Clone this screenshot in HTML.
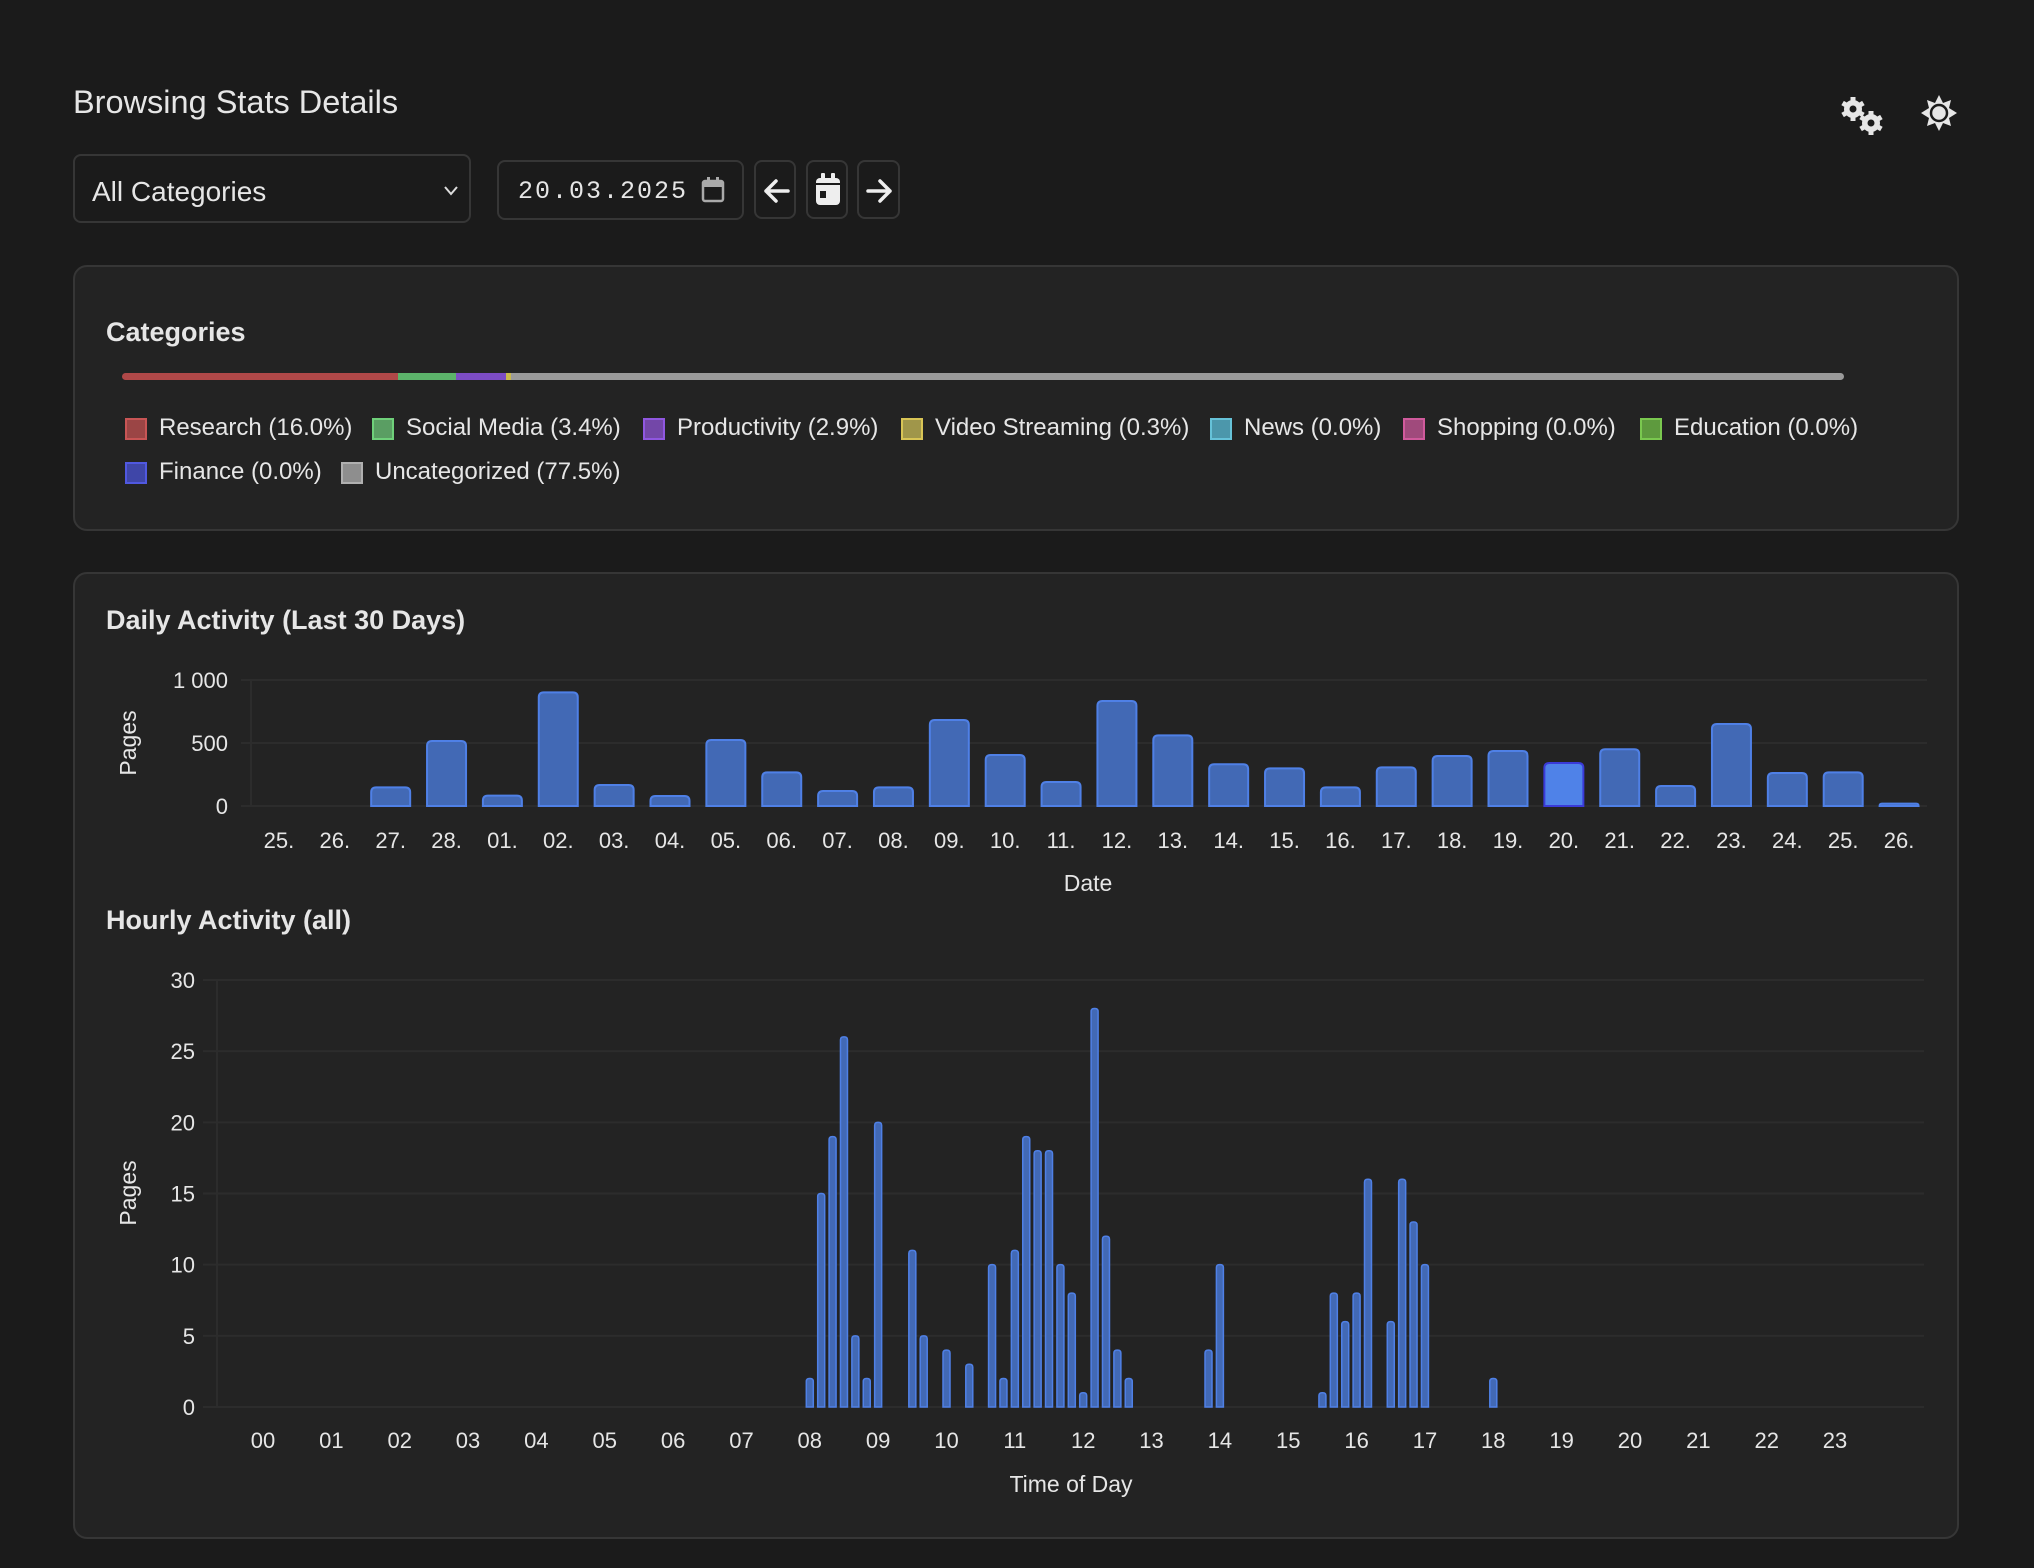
<!DOCTYPE html>
<html><head><meta charset="utf-8">
<style>
html,body{margin:0;padding:0;background:#1b1b1b;}
body{width:2034px;height:1568px;position:relative;overflow:hidden;font-family:"Liberation Sans",sans-serif;color:#e6e6e6;}
.abs{position:absolute;}
.card{position:absolute;background:#232323;border:2px solid #363636;border-radius:14px;box-sizing:border-box;}
.ctl{position:absolute;border:2px solid #363636;border-radius:8px;box-sizing:border-box;background:#1b1b1b;}
.leg{position:absolute;font-size:24px;line-height:28px;white-space:nowrap;}
.sw{display:inline-block;width:22px;height:22px;border:2px solid;vertical-align:-5px;margin-right:12px;box-sizing:border-box;}
</style></head><body>
<div class="abs" style="left:73px;top:84px;font-size:32.5px;">Browsing Stats Details</div>
<svg class="abs" style="left:1836px;top:94px" width="50" height="42" viewBox="0 0 50 42">
<g fill="#e6e6e6"><circle cx="17" cy="15" r="9"/><g stroke="#e6e6e6" stroke-width="5"><line x1="17" y1="3" x2="17" y2="27"/><line x1="6.6" y1="9" x2="27.4" y2="21"/><line x1="6.6" y1="21" x2="27.4" y2="9"/></g><circle cx="17" cy="15" r="3.5" fill="#1b1b1b"/>
<circle cx="35" cy="29" r="9"/><g stroke="#e6e6e6" stroke-width="5"><line x1="35" y1="17" x2="35" y2="41"/><line x1="24.6" y1="23" x2="45.4" y2="35"/><line x1="24.6" y1="35" x2="45.4" y2="23"/></g><circle cx="35" cy="29" r="3.5" fill="#1b1b1b"/></g></svg>
<svg class="abs" style="left:1920px;top:94px" width="38" height="38" viewBox="0 0 38 38">
<polygon fill="#e6e6e6" points="19,1 23,9 31,6 29,14 37,19 29,24 31,32 23,29 19,37 15,29 7,32 9,24 1,19 9,14 7,6 15,9"/>
<circle cx="19" cy="19" r="8" fill="#e6e6e6" stroke="#1b1b1b" stroke-width="2.5"/></svg>

<div class="ctl" style="left:73px;top:154px;width:398px;height:69px;">
<div class="abs" style="left:17px;top:20px;font-size:28px;">All Categories</div>
<svg class="abs" style="left:368px;top:29px" width="16" height="12"><polyline points="2,2 8,9 14,2" fill="none" stroke="#ddd" stroke-width="2"/></svg></div>
<div class="ctl" style="left:497px;top:160px;width:247px;height:60px;">
<div class="abs" style="left:19px;top:15px;font-size:25px;letter-spacing:2px;font-family:'Liberation Mono',monospace;">20.03.2025</div>
<svg class="abs" style="left:201px;top:14px" width="26" height="28"><rect x="3" y="5" width="20" height="20" rx="2" fill="none" stroke="#aaa" stroke-width="2.5"/><rect x="3" y="5" width="20" height="6" fill="#aaa"/><rect x="7" y="1" width="3" height="6" fill="#aaa"/><rect x="16" y="1" width="3" height="6" fill="#aaa"/></svg></div>
<div class="ctl" style="left:754px;top:160px;width:42px;height:59px;">
<svg class="abs" style="left:5px;top:14px" width="30" height="30"><path d="M27 15H5M15 5L5 15L15 25" fill="none" stroke="#eee" stroke-width="3.5" stroke-linecap="round" stroke-linejoin="round"/></svg></div>
<div class="ctl" style="left:806px;top:160px;width:42px;height:59px;">
<svg class="abs" style="left:6px;top:10px" width="28" height="36"><rect x="2" y="6" width="24" height="27" rx="4" fill="#eee"/><rect x="2" y="11" width="24" height="2" fill="#1b1b1b"/><rect x="7" y="1" width="4" height="8" rx="1" fill="#eee"/><rect x="17" y="1" width="4" height="8" rx="1" fill="#eee"/><rect x="6" y="19" width="6" height="7" fill="#1b1b1b"/></svg></div>
<div class="ctl" style="left:857px;top:160px;width:43px;height:59px;">
<svg class="abs" style="left:6px;top:14px" width="30" height="30"><path d="M3 15H25M15 5L25 15L15 25" fill="none" stroke="#eee" stroke-width="3.5" stroke-linecap="round" stroke-linejoin="round"/></svg></div>

<div class="card" style="left:73px;top:265px;width:1886px;height:266px;"></div>
<div class="abs" style="left:106px;top:317px;font-size:27px;font-weight:bold;">Categories</div>
<div class="abs" style="left:122px;top:373px;width:1722px;height:7px;border-radius:4px;overflow:hidden;display:flex;">
<div style="width:16%;background:#b04848;"></div>
<div style="width:3.4%;background:#5cb36a;"></div>
<div style="width:2.9%;background:#7c4cc4;"></div>
<div style="width:0.3%;background:#c9b84a;"></div>
<div style="flex:1;background:#9a9a9a;"></div></div>
<div class="leg" style="left:125px;top:414px;"><span class="sw" style="background:#9b4545;border-color:#c85555"></span>Research (16.0%)</div>
<div class="leg" style="left:372px;top:414px;"><span class="sw" style="background:#5a9e63;border-color:#6fd07a"></span>Social Media (3.4%)</div>
<div class="leg" style="left:643px;top:414px;"><span class="sw" style="background:#7347a8;border-color:#9057e0"></span>Productivity (2.9%)</div>
<div class="leg" style="left:901px;top:414px;"><span class="sw" style="background:#a0964a;border-color:#d8c455"></span>Video Streaming (0.3%)</div>
<div class="leg" style="left:1210px;top:414px;"><span class="sw" style="background:#4c97ab;border-color:#66c2d8"></span>News (0.0%)</div>
<div class="leg" style="left:1403px;top:414px;"><span class="sw" style="background:#a04a7c;border-color:#d05a9c"></span>Shopping (0.0%)</div>
<div class="leg" style="left:1640px;top:414px;"><span class="sw" style="background:#5e9a3e;border-color:#7ac84f"></span>Education (0.0%)</div>
<div class="leg" style="left:125px;top:458px;"><span class="sw" style="background:#3f46a8;border-color:#5058e0"></span>Finance (0.0%)</div>
<div class="leg" style="left:341px;top:458px;"><span class="sw" style="background:#8e8e8e;border-color:#b0b0b0"></span>Uncategorized (77.5%)</div>

<div class="card" style="left:73px;top:572px;width:1886px;height:967px;"></div>
<div class="abs" style="left:106px;top:605px;font-size:27px;font-weight:bold;">Daily Activity (Last 30 Days)</div>
<div class="abs" style="left:106px;top:905px;font-size:27px;font-weight:bold;">Hourly Activity (all)</div>

<svg class="abs" id="charts" style="left:0;top:0" width="2034" height="1568" font-family="Liberation Sans, sans-serif"></svg>

<script>
const dailyLabels = ["25.","26.","27.","28.","01.","02.","03.","04.","05.","06.","07.","08.","09.","10.","11.","12.","13.","14.","15.","16.","17.","18.","19.","20.","21.","22.","23.","24.","25.","26."];
const dailyValues = [0,0,148,516,82,902,167,79,524,267,119,148,683,405,190,833,561,331,299,148,307,397,437,341,450,159,651,262,267,19];
const dailyTicks = [0,500,1000];
const dailyTickLabels = ["0","500","1 000"];
const highlightIndex = 23;

const hourLabels = ["00","01","02","03","04","05","06","07","08","09","10","11","12","13","14","15","16","17","18","19","20","21","22","23"];
const hourlySlots = [48,49,50,51,52,53,54,57,58,60,62,64,65,66,67,68,69,70,71,72,73,74,75,76,83,84,93,94,95,96,97,99,100,101,102,108];
const hourlyValues = [2,15,19,26,5,2,20,11,5,4,3,10,2,11,19,18,18,10,8,1,28,12,4,2,4,10,1,8,6,8,16,6,16,13,10,2];
const hourlyTicks = [0,5,10,15,20,25,30];

const NS = "http://www.w3.org/2000/svg";
const svg = document.getElementById('charts');
function mk(tag, attrs, parent){ const e=document.createElementNS(NS,tag); for(const k in attrs) e.setAttribute(k,attrs[k]); (parent||svg).appendChild(e); return e; }
function txt(x,y,s,attrs){ const t=mk('text',Object.assign({x:x,y:y,fill:'#e6e6e6','font-size':22},attrs||{})); t.textContent=s; return t; }
function barPath(x,y,w,h,r){ r=Math.min(r,w/2,h); if(h<=0) return ''; return `M${x},${y+h}V${y+r}Q${x},${y} ${x+r},${y}H${x+w-r}Q${x+w},${y} ${x+w},${y+r}V${y+h}Z`; }

const dL=251, dR=1927, dTop=680, dBot=806, dMax=1000;
const dBand=(dR-dL)/dailyLabels.length;
const dx=i=>dL+dBand*(i+0.5);
const dy=v=>dBot-(v/dMax)*(dBot-dTop);
mk('line',{x1:dL,y1:dTop,x2:dL,y2:dBot,stroke:'#2c2c2c','stroke-width':2});
dailyTicks.forEach((t,i)=>{
  const g=mk('line',{x1:dL-10,y1:dy(t),x2:dR,y2:dy(t),stroke:'#2c2c2c','stroke-width':2});
  
  
  const l=txt(228,dy(t)+8,dailyTickLabels[i],{'text-anchor':'end'});
  
  
});
dailyLabels.forEach((lab,i)=>{
  const l=txt(dx(i),848,lab,{'text-anchor':'middle'});
  
  
  const v=dailyValues[i]; const w=39; const h=dBot-dy(v);
  if(h>0){
    const hl=i===highlightIndex;
    const p=mk('path',{d:barPath(dx(i)-w/2,dy(v),w,h,5),fill:hl?'#4f82e8':'#4269b5',stroke:hl?'#3a3ad8':'#4f80e6','stroke-width':2});
    
    
  }
});
let t1=txt(1088,891,'Date',{'text-anchor':'middle','font-size':23});
 
let t2=txt(0,0,'Pages',{'text-anchor':'middle','font-size':23,transform:'translate(136,743) rotate(-90)'});
 

const hL=217, hR=1924, hTop=980, hBot=1407, hMax=30, h0=263, hourW=68.35;
const hx=slot=>h0+slot*hourW/6;
const hy=v=>hBot-(v/hMax)*(hBot-hTop);
mk('line',{x1:hL,y1:hTop,x2:hL,y2:hBot,stroke:'#2c2c2c','stroke-width':2});
hourlyTicks.forEach(t=>{
  const g=mk('line',{x1:hL-14,y1:hy(t),x2:hR,y2:hy(t),stroke:'#2c2c2c','stroke-width':2});
  
  
  const l=txt(195,hy(t)+8,String(t),{'text-anchor':'end'});
  
  
});
hourLabels.forEach((lab,i)=>{
  const l=txt(hx(i*6),1448,lab,{'text-anchor':'middle'});
  
  
});
hourlySlots.forEach((s,i)=>{
  const v=hourlyValues[i]; const w=7; const h=hBot-hy(v);
  const p=mk('path',{d:barPath(hx(s)-w/2,hy(v),w,h,3),fill:'#4269b5',stroke:'#4f80e6','stroke-width':1.5});
  
  
});
let t3=txt(1071,1492,'Time of Day',{'text-anchor':'middle','font-size':23});
 
let t4=txt(0,0,'Pages',{'text-anchor':'middle','font-size':23,transform:'translate(136,1193) rotate(-90)'});
 
</script>
</body></html>
